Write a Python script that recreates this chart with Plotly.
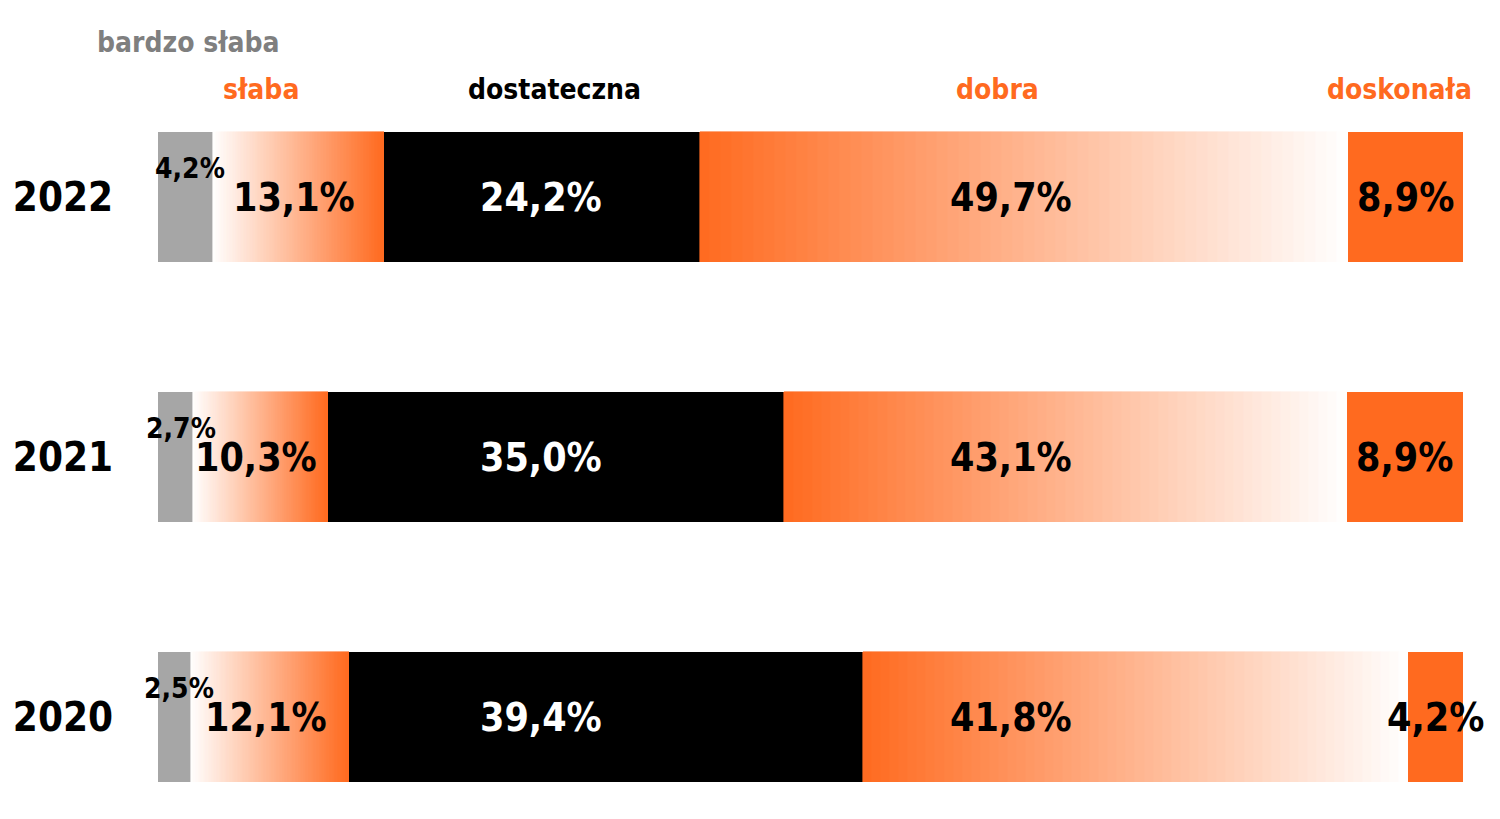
import plotly.graph_objects as go

# ---- data ----
years = ["2020", "2021", "2022"]
categories = ["bardzo słaba", "słaba", "dostateczna", "dobra", "doskonała"]
bardzo_slaba = [2.5, 2.7, 4.2]
slaba = [12.1, 10.3, 13.1]
dostateczna = [39.4, 35.0, 24.2]
dobra = [41.8, 43.1, 49.7]
doskonala = [4.2, 8.9, 8.9]
labels_bs = ["2,5%", "2,7%", "4,2%"]
labels_s = ["12,1%", "10,3%", "13,1%"]
labels_d = ["39,4%", "35,0%", "24,2%"]
labels_db = ["41,8%", "43,1%", "49,7%"]
labels_dk = ["4,2%", "8,9%", "8,9%"]

# ---- style ----
ORANGE = (255, 106, 31)
GRAY = "#A6A6A6"
NUM_FONT = "DejaVu Sans Condensed"
HEAD_FONT = "DejaVu Sans Condensed"
N_STEPS = 60  # gradient resolution


def mix(c1, c2, t):
    return "rgb(%d,%d,%d)" % tuple(round(a + (b - a) * t) for a, b in zip(c1, c2))


WHITE = (255, 255, 255)
fig = go.Figure()


def solid(values, color, name):
    fig.add_trace(go.Bar(y=years, x=values, orientation="h", name=name,
                         marker=dict(color=color, line=dict(width=0)),
                         width=0.5, hoverinfo="x+y"))


def gradient(values, c_from, c_to, name):
    for k in range(N_STEPS):
        t = (k + 0.5) / N_STEPS
        col = mix(c_from, c_to, t)
        fig.add_trace(go.Bar(y=years, x=[v / N_STEPS for v in values], orientation="h",
                             name=name, showlegend=False,
                             marker=dict(color=col, line=dict(width=0.6, color=col)),
                             width=0.5, hoverinfo="skip"))


solid(bardzo_slaba, GRAY, categories[0])
gradient(slaba, WHITE, ORANGE, categories[1])
solid(dostateczna, "#000000", categories[2])
gradient(dobra, ORANGE, WHITE, categories[3])
solid(doskonala, "rgb(255,106,31)", categories[4])

# ---- value labels ----
annotations = []
COL_DOST_X = 29.35  # fixed label column for "dostateczna"
COL_DOBRA_X = 65.4  # fixed label column for "dobra"
for i, y in enumerate(years):
    c0 = bardzo_slaba[i]
    c1 = c0 + slaba[i]
    c2 = c1 + dostateczna[i]
    c3 = c2 + dobra[i]
    annotations.append(dict(x=c0 / 2, y=i, text=labels_bs[i], xshift=5, yshift=29,
                            font=dict(family=NUM_FONT, size=28, color="black", weight="bold")))
    annotations.append(dict(x=(c0 + c1) / 2, y=i, text=labels_s[i], xshift=-4,
                            font=dict(family=NUM_FONT, size=39, color="black", weight="bold")))
    annotations.append(dict(x=COL_DOST_X, y=i, text=labels_d[i],
                            font=dict(family=NUM_FONT, size=39, color="white", weight="bold")))
    annotations.append(dict(x=COL_DOBRA_X, y=i, text=labels_db[i],
                            font=dict(family=NUM_FONT, size=39, color="black", weight="bold")))
    annotations.append(dict(x=(c3 + 100) / 2, y=i, text=labels_dk[i],
                            font=dict(family=NUM_FONT, size=39, color="black", weight="bold")))
for a in annotations:
    a.update(xref="x", yref="y", showarrow=False, xanchor="center", yanchor="middle")

# ---- header labels ----
head_colors = ["#7F7F7F", "rgb(255,106,31)", "#000000", "rgb(255,106,31)", "rgb(255,106,31)"]
head_x = [188, 261, 554, 997, 1399]
head_y = [42, 90, 90, 90, 90]
for name, col, hx, hy in zip(categories, head_colors, head_x, head_y):
    annotations.append(dict(xref="paper", yref="paper",
                            x=(hx - 158) / 1305, y=1 - (hy - 28) / 780,
                            text=name, showarrow=False, xanchor="center", yanchor="middle",
                            font=dict(family=HEAD_FONT, size=28, color=col, weight="bold")))

fig.update_layout(
    barmode="stack",
    width=1500, height=819,
    margin=dict(l=150, r=45, t=20, b=19, autoexpand=False),
    paper_bgcolor="white", plot_bgcolor="white",
    showlegend=False,
    bargap=0,
    annotations=annotations,
    xaxis=dict(range=[0, 100], visible=False, fixedrange=True, automargin=False),
    yaxis=dict(type="category", categoryarray=years, range=[-0.35, 2.65],
               showgrid=False, zeroline=False, showline=False, ticks="",
               automargin=False, ticklabelstandoff=44,
               tickfont=dict(family=NUM_FONT, size=40, color="black", weight="bold")),
)

fig.write_html("out.html")
